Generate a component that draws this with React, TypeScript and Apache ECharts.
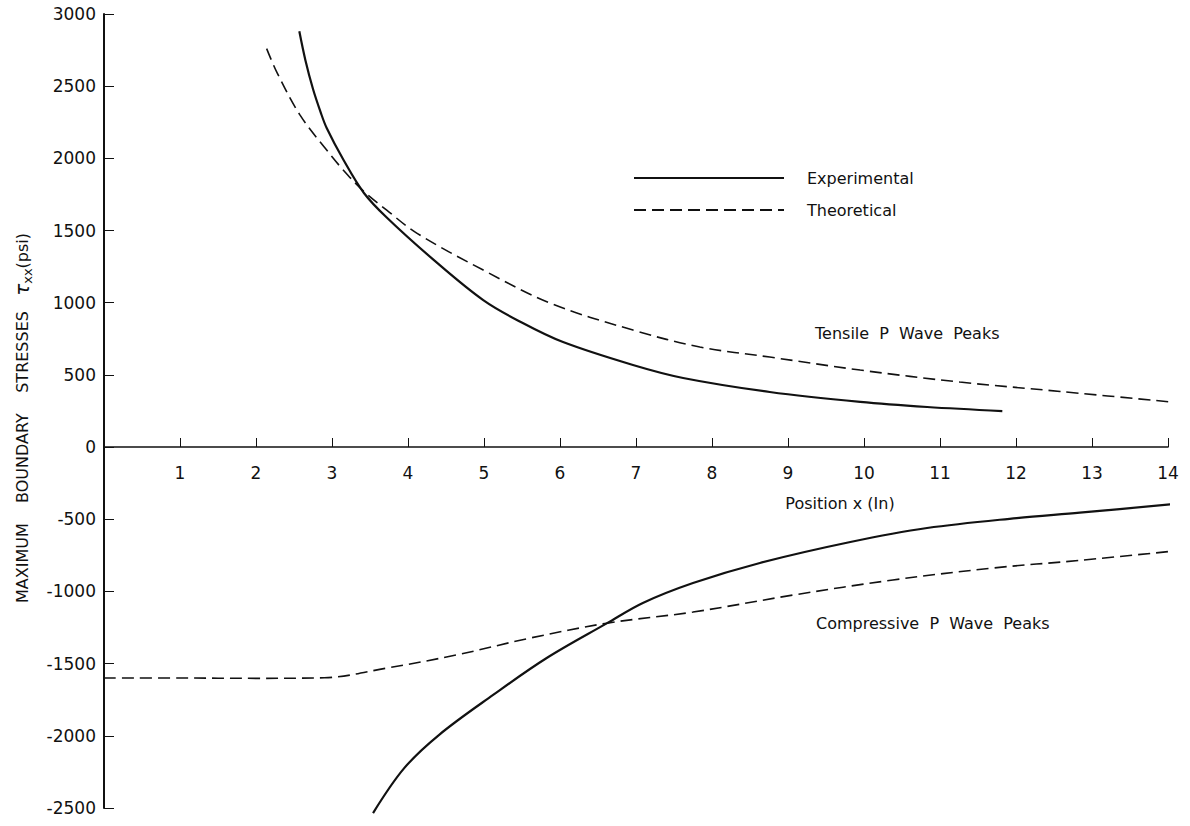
import React, { useEffect, useRef } from "react";
import * as echarts from "echarts";

// Tensile P wave peaks
const tensileExpX = [2.57, 2.65, 2.75, 2.85, 2.93, 3.15, 3.42, 3.72, 4.33, 4.99, 5.51, 6.04, 6.96, 7.62, 8.76, 9.95, 10.83, 11.82];
const tensileExpY = [2880, 2680, 2480, 2320, 2210, 1990, 1760, 1590, 1300, 1018, 859, 727, 568, 478, 381, 312, 277, 249];
const tensileTheoX = [2.14, 2.28, 2.58, 2.93, 3.15, 3.42, 3.72, 4.12, 4.99, 5.87, 6.96, 7.84, 8.76, 9.95, 11.26, 12.58, 14.18];
const tensileTheoY = [2760, 2590, 2299, 2057, 1918, 1770, 1641, 1480, 1226, 997, 810, 693, 623, 533, 450, 385, 305];

// Compressive P wave peaks
const compExpX = [3.54, 3.95, 4.41, 5.12, 5.82, 6.62, 7.09, 7.75, 8.63, 9.82, 10.83, 12.01, 12.84, 14.18];
const compExpY = [-2535, -2224, -1993, -1717, -1463, -1220, -1080, -942, -803, -658, -561, -492, -455, -390];
const compTheoX = [0, 1, 2, 2.9, 3.71, 4.64, 5.59, 6.62, 7.75, 9.07, 10.38, 11.7, 12.84, 14.18];
const compTheoY = [-1600, -1600, -1602, -1598, -1532, -1440, -1325, -1220, -1143, -1025, -921, -838, -785, -715];

const xRange = { min: 0, max: 14, interval: 1 };
const yTopRange = { min: 0, max: 3000, interval: 500 };
const yBottomRange = { min: -2500, max: 0, interval: 500 };

const FONT = "DejaVu Sans";
const INK = "#111";

const zip = (xs: number[], ys: number[]) => xs.map((x, i) => [x, ys[i]]);

export default function App() {
  const ref = useRef<HTMLDivElement>(null);
  useEffect(() => {
    if (!ref.current) return;
    const chart = echarts.init(ref.current, undefined, { renderer: "svg" });
    const solid = { color: INK, width: 2.2, type: "solid" as const };
    const dashed = { color: INK, width: 1.6, type: [12, 6] as any };
    const common = {
      type: "line" as const,
      smooth: 0.35,
      symbol: "none",
      showSymbol: false,
      clip: false,
      color: INK,
    };
    const yLabel = { margin: 8, fontFamily: FONT, fontSize: 17, color: INK };
    const yLine = { show: true, onZero: false, lineStyle: { color: INK, width: 2 } };
    const yTick = { show: true, inside: true, length: 10, lineStyle: { color: INK, width: 1 } };
    chart.setOption({
      animation: false,
      backgroundColor: "#fff",
      grid: [
        { left: 104, right: 22, top: 14, bottom: 379, containLabel: false },
        { left: 104, right: 22, top: 447, bottom: 18, containLabel: false },
      ],
      legend: {
        data: ["Experimental", "Theoretical"],
        left: 628,
        top: 165,
        orient: "vertical",
        itemWidth: 150,
        itemHeight: 14,
        itemGap: 16,
        itemStyle: { opacity: 0 },
        textStyle: { fontFamily: FONT, fontSize: 16, color: INK, padding: [0, 0, 0, 18] },
        selectedMode: false,
      },
      xAxis: [
        {
          type: "value",
          gridIndex: 0,
          min: xRange.min,
          max: xRange.max,
          interval: xRange.interval,
          axisLine: { onZero: false, lineStyle: { color: INK, width: 1.6 } },
          axisTick: { inside: true, length: 9, lineStyle: { color: INK, width: 1 } },
          axisLabel: {
            margin: 17,
            fontFamily: FONT,
            fontSize: 17,
            color: INK,
            formatter: (v: number) => (v === 0 ? "" : String(v)),
          },
          splitLine: { show: false },
        },
        {
          type: "value",
          gridIndex: 1,
          min: xRange.min,
          max: xRange.max,
          interval: xRange.interval,
          show: false,
        },
      ],
      yAxis: [
        {
          type: "value",
          gridIndex: 0,
          min: yTopRange.min,
          max: yTopRange.max,
          interval: yTopRange.interval,
          axisLine: yLine,
          axisTick: yTick,
          axisLabel: { ...yLabel, formatter: (v: number) => String(v) },
          splitLine: { show: false },
        },
        {
          type: "value",
          gridIndex: 1,
          min: yBottomRange.min,
          max: yBottomRange.max,
          interval: yBottomRange.interval,
          axisLine: yLine,
          axisTick: yTick,
          axisLabel: { ...yLabel, formatter: (v: number) => (v === 0 ? "" : String(v)) },
          splitLine: { show: false },
        },
      ],
      series: [
        { ...common, name: "Experimental", xAxisIndex: 0, yAxisIndex: 0, data: zip(tensileExpX, tensileExpY), lineStyle: solid },
        { ...common, name: "Theoretical", xAxisIndex: 0, yAxisIndex: 0, data: zip(tensileTheoX, tensileTheoY), lineStyle: dashed },
        { ...common, name: "Experimental", xAxisIndex: 1, yAxisIndex: 1, data: zip(compExpX, compExpY), lineStyle: solid },
        { ...common, name: "Theoretical", xAxisIndex: 1, yAxisIndex: 1, data: zip(compTheoX, compTheoY), lineStyle: dashed },
      ],
      graphic: [
        {
          type: "text",
          x: 22,
          y: 418,
          rotation: Math.PI / 2,
          style: {
            text: "{a|MAXIMUM    BOUNDARY    STRESSES   }{t|τ}{s|xx}{a|(psi)}",
            align: "center",
            verticalAlign: "middle",
            fill: INK,
            rich: {
              a: { fontFamily: FONT, fontSize: 16, fill: INK, lineHeight: 24, verticalAlign: "middle" },
              t: { fontFamily: FONT, fontSize: 20, fill: INK, fontStyle: "italic", lineHeight: 24, verticalAlign: "middle" },
              s: { fontFamily: FONT, fontSize: 13, fill: INK, lineHeight: 24, verticalAlign: "bottom" },
            },
          },
        },
        {
          type: "text",
          x: 815,
          y: 333,
          style: { text: "Tensile  P  Wave  Peaks", fontFamily: FONT, fontSize: 16, fill: INK, align: "left", verticalAlign: "middle" },
        },
        {
          type: "text",
          x: 816,
          y: 623,
          style: { text: "Compressive  P  Wave  Peaks", fontFamily: FONT, fontSize: 16, fill: INK, align: "left", verticalAlign: "middle" },
        },
        {
          type: "text",
          x: 840,
          y: 503,
          style: { text: "Position x (In)", fontFamily: FONT, fontSize: 16, fill: INK, align: "center", verticalAlign: "middle" },
        },
      ],
    });
    return () => chart.dispose();
  }, []);
  return (
    <div
      ref={ref}
      style={{ position: "fixed", left: 0, top: 0, width: 1190, height: 826, background: "#fff" }}
    />
  );
}
